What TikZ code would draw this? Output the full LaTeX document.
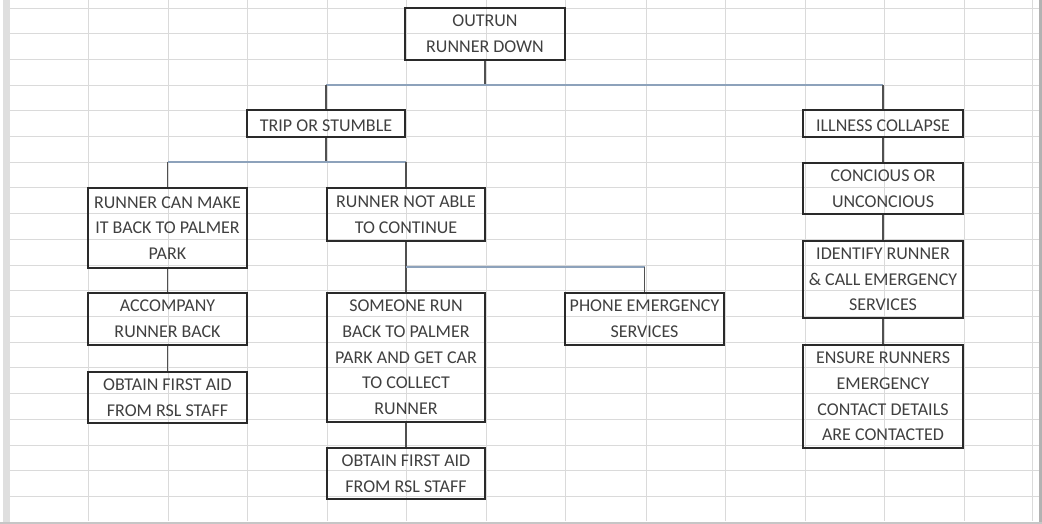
\documentclass[tikz,border=0pt]{standalone}
\usepackage{fontspec}
\setmainfont{Carlito}
\definecolor{gridc}{HTML}{DADADA}
\definecolor{boxc}{HTML}{2A2A2A}
\definecolor{txtc}{HTML}{404040}
\definecolor{vcon}{HTML}{505050}
\definecolor{hcon}{HTML}{8DA2BB}
\begin{document}
\begin{tikzpicture}[x=1pt,y=-1pt,
  cell/.style={draw=boxc,line width=2pt,inner sep=0pt,align=center,text=txtc,
    font=\fontsize{18}{25.7}\selectfont,
    execute at begin node={\rule{0pt}{17pt}}},
  mcell/.style={cell,execute at begin node={\rule{0pt}{23.5pt}}},
  vline/.style={draw=vcon,line width=1.4pt},
  hline/.style={draw=hcon,line width=1.4pt}]
\useasboundingbox (0,0) rectangle (1042,524);
% spreadsheet grid
\fill[white] (0,0) rectangle (1042,524);
\foreach \k in {0,...,19}{
  \pgfmathsetmacro{\yy}{8+25.7*\k}
  \draw[gridc,line width=0.8pt] (10,\yy) -- (1039,\yy);
}
\foreach \xx in {88,168,247,327,406,486,565,646,725,805,884,964,1032}{
  \draw[gridc,line width=0.8pt] (\xx,0) -- (\xx,521);
}
\fill[gray!25] (3,0) rectangle (10,524);
\fill[gray!60] (1039,0) rectangle (1042,524);
\fill[gray!45] (0,521.5) rectangle (1042,524);
% boxes
\node[mcell,minimum width=160pt,minimum height=52pt] (out) at (485,34) {OUTRUN\\RUNNER DOWN};
\node[cell,minimum width=158pt,minimum height=27pt] (trip) at (326,123.5) {TRIP OR STUMBLE};
\node[cell,minimum width=160pt,minimum height=27pt] (ill) at (883,123.5) {ILLNESS COLLAPSE};
\node[mcell,minimum width=159pt,minimum height=80pt] (can) at (167.5,228) {RUNNER CAN MAKE\\IT BACK TO PALMER\\PARK};
\node[mcell,minimum width=158pt,minimum height=53pt] (notable) at (406,214.5) {RUNNER NOT ABLE\\TO CONTINUE};
\node[mcell,minimum width=159pt,minimum height=52pt] (acc) at (167.5,319) {ACCOMPANY\\RUNNER BACK};
\node[mcell,minimum width=158pt,minimum height=129pt] (some) at (406,357.5) {SOMEONE RUN\\BACK TO PALMER\\PARK AND GET CAR\\TO COLLECT\\RUNNER};
\node[mcell,minimum width=159pt,minimum height=52pt] (phone) at (644.5,319) {PHONE EMERGENCY\\SERVICES};
\node[mcell,minimum width=159pt,minimum height=51pt] (obt1) at (167.5,397.5) {OBTAIN FIRST AID\\FROM RSL STAFF};
\node[mcell,minimum width=158pt,minimum height=51pt] (obt2) at (406,473.5) {OBTAIN FIRST AID\\FROM RSL STAFF};
\node[mcell,minimum width=160pt,minimum height=51pt] (con) at (883,188.5) {CONCIOUS OR\\UNCONCIOUS};
\node[mcell,minimum width=160pt,minimum height=77pt] (ident) at (883,279.5) {IDENTIFY RUNNER\\\& CALL EMERGENCY\\SERVICES};
\node[mcell,minimum width=160pt,minimum height=103pt] (ens) at (883,396.5) {ENSURE RUNNERS\\EMERGENCY\\CONTACT DETAILS\\ARE CONTACTED};
% branch points
\coordinate (b1) at (485,85);
\coordinate (b2) at (326,162);
\coordinate (b3) at (406,267);
% connectors
\draw[vline] (out.south) -- (b1);
\draw[hline] (trip.north |- b1) -- (ill.north |- b1);
\draw[vline] (trip.north |- b1) -- (trip.north);
\draw[vline] (ill.north |- b1) -- (ill.north);
\draw[vline] (trip.south) -- (b2);
\draw[hline] (can.north |- b2) -- (notable.north |- b2);
\draw[vline] (can.north |- b2) -- (can.north);
\draw[vline] (notable.north |- b2) -- (notable.north);
\draw[vline] (notable.south) -- (some.north);
\draw[hline] (b3) -- (phone.north |- b3);
\draw[vline] (phone.north |- b3) -- (phone.north);
\draw[vline] (can.south) -- (acc.north);
\draw[vline] (acc.south) -- (obt1.north);
\draw[vline] (some.south) -- (obt2.north);
\draw[vline] (ill.south) -- (con.north);
\draw[vline] (con.south) -- (ident.north);
\draw[vline] (ident.south) -- (ens.north);
\end{tikzpicture}
\end{document}
